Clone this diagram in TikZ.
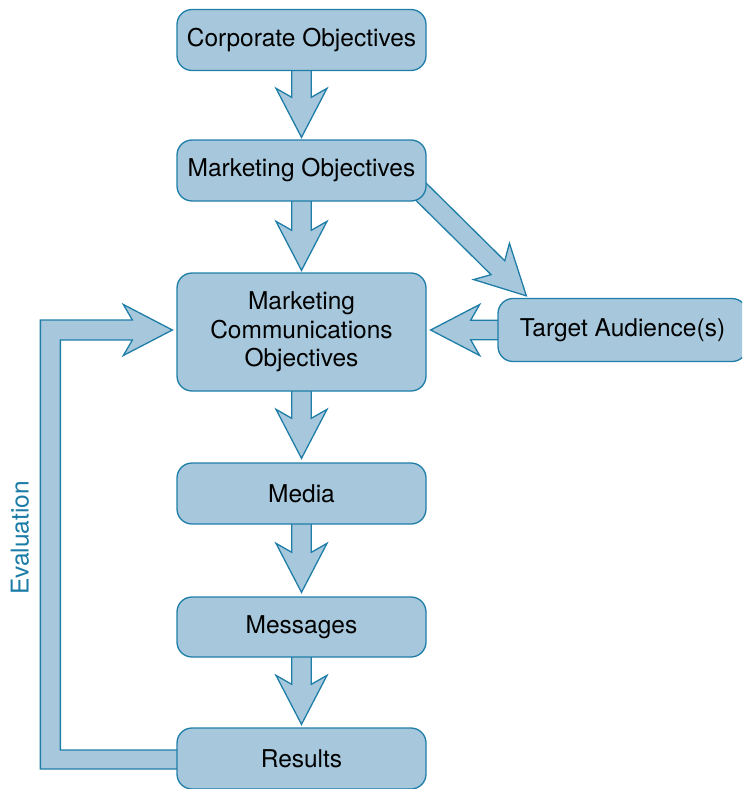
\documentclass[tikz,border=0pt]{standalone}
\usepackage{fontspec}
\setmainfont{TeX Gyre Heros}
\usetikzlibrary{calc,backgrounds}
\definecolor{boxfill}{HTML}{A7C8DC}
\definecolor{boxline}{HTML}{1F7EA8}
\definecolor{evaltext}{HTML}{1A7BA6}
\tikzset{
  box/.style={draw=boxline, fill=boxfill, line width=1.3pt, rounded corners=15pt,
    minimum width=249pt, minimum height=61pt, align=center,
    font=\fontsize{24.5}{28.5}\selectfont, inner sep=0pt},
  blockarrow/.style={draw=boxline, fill=boxfill, line width=1.3pt, line join=miter},
}
% block arrow from #1 (start) to #2 (tip)
\newcommand\blockarr[2]{%
  \path[blockarrow] let \p1=(#1), \p2=(#2),
    \n1={atan2(\y2-\y1,\x2-\x1)}, \n2={veclen(\x2-\x1,\y2-\y1)} in
    [shift={(\p1)}, rotate=\n1]
    (0pt,-9.75pt) -- ({\n2-40pt},-9.75pt) -- ({\n2-49pt},-25.5pt) -- (\n2,0pt)
    -- ({\n2-49pt},25.5pt) -- ({\n2-40pt},9.75pt) -- (0pt,9.75pt) -- cycle;}
\begin{document}
\begin{tikzpicture}[x=1pt,y=-1pt]
  \useasboundingbox (0,0) rectangle (742,789);
  \clip (0,0) rectangle (742,789);
  \node[box] (corp) at (301.5,40) {Corporate Objectives};
  \node[box] (mkt) at (301.5,170.5) {Marketing Objectives};
  \node[box, minimum height=118pt] (mco) at (301.5,332) {Marketing\\Communications\\Objectives};
  \node[box, minimum height=63pt] (target) at (622.5,330) {Target Audience(s)};
  \node[box] (media) at (301.5,493.5) {Media};
  \node[box, minimum height=60pt] (msg) at (301.5,627) {Messages};
  \node[box] (res) at (301.5,758.5) {Results};
  \node[rotate=90, text=evaltext, font=\fontsize{24.5}{28.5}\selectfont, inner sep=0pt] (evaltxt) at (20,538) {Evaluation};
  \coordinate (mkts) at ($(mkt.east)+(-16,11)$);
  \coordinate (ttip) at ($(target.north west)+(29,-2)$);
  \coordinate (ftip) at ($(mco.west)+(-4,-2)$);
  \begin{pgfonlayer}{background}
    \blockarr{corp.center}{$(mkt.north)+(0,-2)$}
    \blockarr{mkt.center}{$(mco.north)+(0,-2)$}
    \blockarr{mco.center}{$(media.north)+(0,-4)$}
    \blockarr{media.center}{$(msg.north)+(0,-4)$}
    \blockarr{msg.center}{$(res.north)+(0,-3)$}
    \blockarr{mkts}{ttip}
    \blockarr{target.center}{$(mco.east)+(4,-2)$}
    % feedback (evaluation) arrow
    \path[blockarrow] ($(res.west)+(20,10.5)$) -| ($(ftip)+(-132,-10)$)
      -- ($(ftip)+(-40,-10)$) -- ($(ftip)+(-49,-25.5)$) -- (ftip)
      -- ($(ftip)+(-49,25.5)$) -- ($(ftip)+(-40,10)$)
      -| ($(res.west)+(-116,-8.5)$) -- ($(res.west)+(20,-8.5)$) -- cycle;
  \end{pgfonlayer}
\end{tikzpicture}
\end{document}
